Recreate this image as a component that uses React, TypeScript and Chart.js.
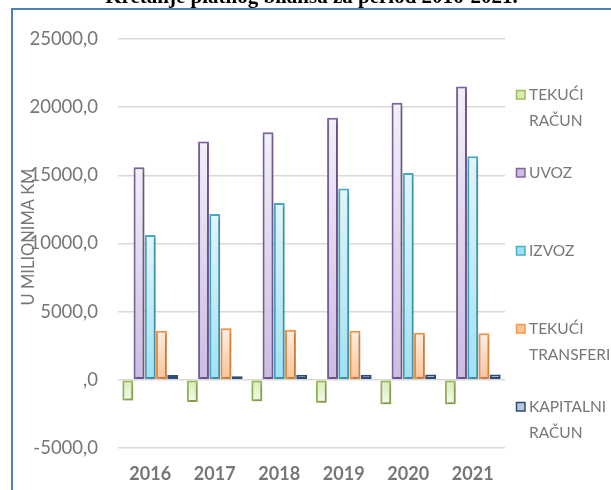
import React, { useEffect, useRef } from 'react';
import { Chart, registerables } from 'chart.js';

Chart.register(...registerables);

const titleText = 'Kretanje platnog bilansa za period 2016-2021.';
const axisTitle = 'U MILIONIMA KM';
const years = ['2016', '2017', '2018', '2019', '2020', '2021'];
const seriesNames = ['TEKUĆI RAČUN', 'UVOZ', 'IZVOZ', 'TEKUĆI TRANSFERI', 'KAPITALNI RAČUN'];
const tekuciRacun = [-1510, -1620, -1570, -1690, -1790, -1790];
const uvoz = [15590, 17480, 18160, 19220, 20320, 21520];
const izvoz = [10620, 12160, 12970, 14040, 15180, 16400];
const tekuciTransferi = [3600, 3780, 3680, 3600, 3460, 3410];
const kapitalniRacun = [350, 270, 370, 370, 400, 400];
const yMin = -5000;
const yMax = 25000;
const yStep = 5000;

const seriesValues = [tekuciRacun, uvoz, izvoz, tekuciTransferi, kapitalniRacun];
const borderColors = ['#9bbb59', '#8064a2', '#4bacc6', '#f79646', '#2c4d75'];
const fillEnd = ['#f6fbec', '#f3f0f8', '#e0f6fb', '#feeee2', '#dfe5ef'];
const fillBase = ['#d9ebb5', '#cbbce2', '#9fe2f4', '#fbc499', '#b9c6da'];

const FONT = 'Lato, "Open Sans", sans-serif';
const GRAY = '#767676';

function gradFill(i: number) {
  return (ctx: any) => {
    const chart = ctx.chart;
    if (!chart.chartArea || ctx.type !== 'data' || !ctx.parsed) return fillBase[i];
    const y = chart.scales.y;
    const y0 = y.getPixelForValue(0);
    const y1 = y.getPixelForValue(ctx.parsed.y);
    if (!isFinite(y0) || !isFinite(y1) || Math.abs(y0 - y1) < 1) return fillBase[i];
    const g = chart.ctx.createLinearGradient(0, y1, 0, y0);
    g.addColorStop(0, fillEnd[i]);
    g.addColorStop(1, fillBase[i]);
    return g;
  };
}

const extras = {
  id: 'extras',
  beforeDatasetsDraw(chart: any) {
    const c = chart.ctx;
    c.save();
    c.shadowColor = 'rgba(0,0,0,0.30)';
    c.shadowBlur = 4;
    c.shadowOffsetX = 1;
    c.shadowOffsetY = 2;
  },
  afterDatasetsDraw(chart: any) {
    chart.ctx.restore();
  },
  afterDraw(chart: any) {
    const c = chart.ctx;
    c.save();
    c.translate(29, 237);
    c.rotate(-Math.PI / 2);
    c.font = `16.5px ${FONT}`;
    c.fillStyle = GRAY;
    c.textAlign = 'center';
    c.textBaseline = 'middle';
    c.fillText(axisTitle, 0, 0);
    c.restore();

    c.save();
    c.font = `15.5px ${FONT}`;
    c.textAlign = 'left';
    c.textBaseline = 'middle';
    chart.data.datasets.forEach((ds: any, i: number) => {
      const y = 95 + 78 * i;
      c.fillStyle = fillBase[i];
      c.fillRect(516, y - 5, 9, 9);
      c.strokeStyle = borderColors[i];
      c.lineWidth = 1.5;
      c.strokeRect(516.5, y - 4.5, 8.5, 8.5);
      c.fillStyle = GRAY;
      String(ds.label).split(' ').forEach((line: string, k: number) => {
        c.fillText(line, 529, y + k * 26);
      });
    });
    c.restore();
  },
};

export default function App() {
  const ref = useRef<HTMLCanvasElement>(null);
  useEffect(() => {
    if (!ref.current) return;
    const chart = new Chart(ref.current, {
      type: 'bar',
      data: {
        labels: years,
        datasets: seriesNames.map((name, i) => ({
          label: name,
          data: seriesValues[i],
          backgroundColor: gradFill(i),
          borderColor: borderColors[i],
          borderWidth: 2,
          borderSkipped: false,
          categoryPercentage: 0.87,
          barPercentage: 0.97,
        })),
      },
      options: {
        animation: false,
        responsive: false,
        maintainAspectRatio: false,
        layout: { padding: { top: 39, right: 106, left: 0, bottom: 0 } },
        plugins: { legend: { display: false }, tooltip: { enabled: false }, title: { display: false } },
        scales: {
          x: {
            grid: { display: false, drawTicks: false },
            border: { display: false },
            ticks: { color: GRAY, font: { family: FONT, size: 18, weight: 'bold' }, padding: 15 },
            afterFit: (s: any) => { s.height = 42; },
          },
          y: {
            min: yMin,
            max: yMax,
            ticks: {
              stepSize: yStep,
              color: GRAY,
              padding: 20,
              font: { family: FONT, size: 18.5 },
              callback: (v: any) => (Number(v) === 0 ? ',0' : Number(v).toFixed(1).replace('.', ',')),
            },
            grid: { color: '#d9d9d9', lineWidth: 1.5, drawTicks: false },
            border: { display: false },
            afterFit: (s: any) => { s.width = 118; },
          },
        },
      },
      plugins: [extras],
    });
    return () => chart.destroy();
  }, []);

  return (
    <div style={{ position: 'fixed', left: 0, top: 0, width: 611, height: 490, overflow: 'hidden', background: '#fff' }}>
      <canvas ref={ref} width={611} height={490} style={{ position: 'absolute', left: 0, top: 0, width: 611, height: 490 }} />
      <div
        style={{
          position: 'absolute', left: 6, width: 611, top: -14, textAlign: 'center',
          fontFamily: '"Liberation Serif", "Times New Roman", serif', fontWeight: 'bold', fontSize: 21, lineHeight: '21px', whiteSpace: 'nowrap', color: '#000',
        }}
      >
        {titleText}
      </div>
      <div
        style={{
          position: 'absolute', left: 11, top: 8, width: 620, height: 500,
          borderLeft: '2px solid #4f81bd', borderTop: '2px solid #4f81bd', pointerEvents: 'none',
        }}
      />
    </div>
  );
}
